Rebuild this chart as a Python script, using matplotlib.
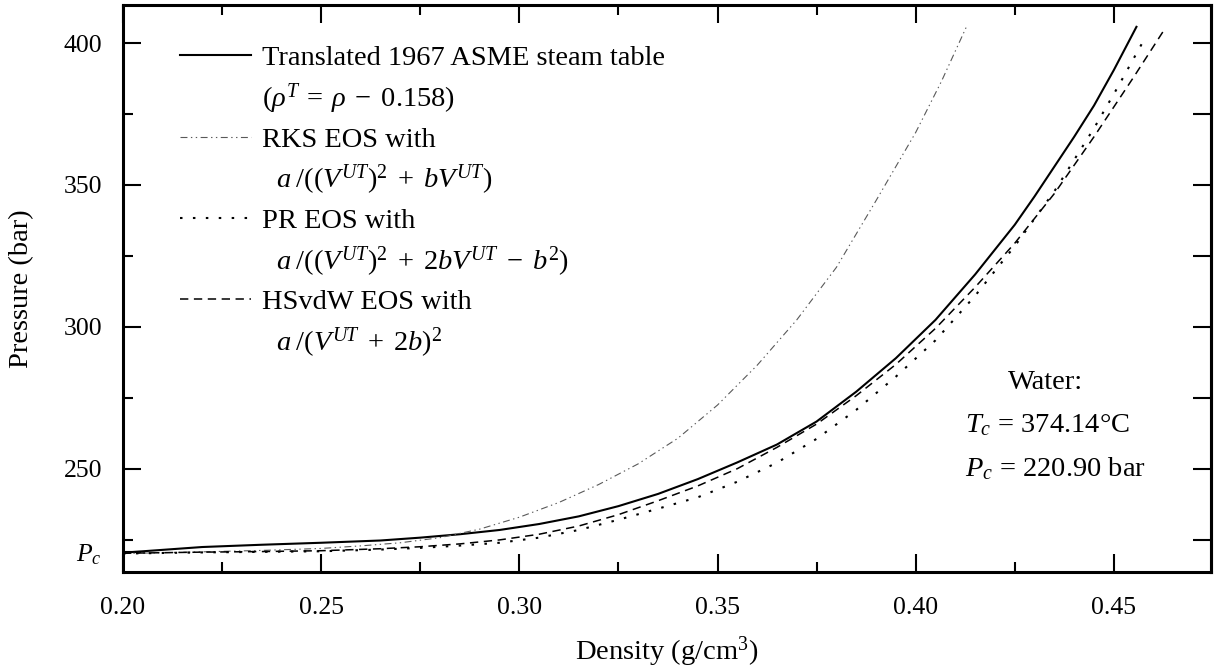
import numpy as np
import matplotlib
matplotlib.use("Agg")
import matplotlib.pyplot as plt
from matplotlib.lines import Line2D

plt.rcParams['font.family'] = ['Liberation Serif', 'DejaVu Serif']
plt.rcParams['mathtext.fontset'] = 'custom'
plt.rcParams['mathtext.rm'] = 'Liberation Serif'
plt.rcParams['mathtext.it'] = 'Liberation Serif:italic'
plt.rcParams['mathtext.bf'] = 'Liberation Serif:bold'
plt.rcParams['lines.scale_dashes'] = False

# values (density g/cm3, pressure bar)
rho_steam = [0.200, 0.210, 0.220, 0.235, 0.250, 0.265, 0.275, 0.285, 0.295, 0.305, 0.315, 0.325,
             0.335, 0.345, 0.355, 0.365, 0.375, 0.385, 0.395, 0.405, 0.415, 0.425, 0.430, 0.435,
             0.440, 0.445, 0.450, 0.4557]
p_steam = [220.5, 221.5, 222.5, 223.3, 224.0, 224.8, 225.8, 227.0, 228.5, 230.6, 233.3, 236.9,
           241.2, 246.4, 252.3, 258.6, 266.7, 277.2, 289.0, 302.5, 318.5, 336.0, 346.0, 356.5,
           367.0, 378.0, 390.5, 405.7]

rho_rks = [0.200, 0.210, 0.220, 0.235, 0.250, 0.260, 0.270, 0.280, 0.290, 0.300, 0.310, 0.320,
           0.330, 0.340, 0.350, 0.360, 0.370, 0.380, 0.390, 0.400, 0.4065, 0.4128]
p_rks = [220.2, 220.5, 220.8, 221.3, 222.0, 222.9, 224.0, 225.8, 228.8, 233.0, 238.2, 244.5,
         251.8, 260.8, 272.5, 286.5, 302.5, 321.0, 344.5, 368.5, 386.5, 405.7]

rho_pr = [0.200, 0.210, 0.220, 0.235, 0.250, 0.265, 0.275, 0.285, 0.295, 0.305, 0.315, 0.325,
          0.335, 0.345, 0.355, 0.365, 0.375, 0.385, 0.395, 0.405, 0.415, 0.425, 0.435, 0.445,
          0.451, 0.4578]
p_pr = [220.2, 220.4, 220.6, 220.8, 221.0, 221.6, 222.2, 223.0, 224.0, 225.8, 228.5, 232.1,
        236.0, 240.0, 245.5, 252.2, 260.6, 270.8, 282.5, 295.3, 311.0, 328.5, 347.8, 370.0,
        384.5, 401.6]

rho_hs = [0.200, 0.210, 0.220, 0.235, 0.250, 0.265, 0.275, 0.285, 0.295, 0.305, 0.315, 0.325,
          0.335, 0.345, 0.355, 0.365, 0.375, 0.385, 0.395, 0.405, 0.415, 0.425, 0.435, 0.445,
          0.455, 0.4624]
p_hs = [220.3, 220.5, 220.7, 220.9, 221.2, 221.9, 222.6, 223.6, 225.0, 227.0, 229.9, 233.9,
        238.8, 244.0, 250.1, 257.6, 265.8, 275.8, 286.8, 299.5, 314.0, 329.5, 347.0, 367.0,
        388.0, 404.0]

Pc = 220.90
yticks = [Pc, 250, 300, 350, 400]
ytick_labels = ['$P_c$', '250', '300', '350', '400']
xticks = [0.20, 0.25, 0.30, 0.35, 0.40, 0.45]

labels = ['Translated 1967 ASME steam table',
          r'($\rho^T\:=\:\rho\;-\;0.158$)',
          'RKS EOS with',
          r'$\;\;\,a\:/((V^{UT})^2\;+\;bV^{UT})$',
          'PR EOS with',
          r'$\;\;\,a\:/((V^{UT})^2\;+\;2bV^{UT}\;-\;b^2)$',
          'HSvdW EOS with',
          r'$\;\;\,a\:/(V^{UT}\;+\;2b)^2$']

fig = plt.figure(figsize=(12.14, 6.72), dpi=100)
ax = fig.add_axes([0.1013, 0.1488, 0.8962, 0.8438])

l1, = ax.plot(rho_steam, p_steam, color='black', lw=1.5)
l2, = ax.plot(rho_rks, p_rks, color='0.35', lw=0.8, dashes=(5, 2.5, 1, 2.5, 1, 2.5))
l3, = ax.plot(rho_pr, p_pr, color='black', lw=1.5, dashes=(1.8, 7.5))
l4, = ax.plot(rho_hs, p_hs, color='black', lw=1.1, dashes=(6, 4))

ax.set_xlim(0.20, 0.4745)
ax.set_ylim(213.7, 413.4)

ax.set_xticks(xticks)
ax.set_xticklabels(['%.2f' % v for v in xticks])
ax.set_xticks(np.arange(0.225, 0.47, 0.05), minor=True)
ax.set_yticks(yticks)
ax.set_yticklabels(ytick_labels)
ax.set_yticks(np.arange(225, 400, 50), minor=True)

ax.tick_params(which='both', direction='in', top=True, right=False, labelsize=18.5, width=1.5)
ax.tick_params(which='major', length=13)
ax.tick_params(which='minor', length=7)
ax.tick_params(axis='x', which='both', pad=18)
ax.tick_params(axis='y', which='both', pad=15)
for s in ax.spines.values():
    s.set_linewidth(2.2)

sec = ax.secondary_yaxis('right')
sec.set_yticks(np.arange(225, 401, 25))
sec.tick_params(direction='in', length=13, width=1.5, labelright=False)
sec.spines['right'].set_linewidth(2.2)

ax.set_xlabel('Density (g/cm$^3$)', fontsize=20.5, labelpad=11)
ax.set_ylabel('Pressure (bar)', fontsize=20.5, labelpad=21)

blank = Line2D([], [], linestyle='none')
handles = [l1, blank, l2, blank, l3, blank, l4, blank]
leg = ax.legend(handles, labels, loc='upper left', bbox_to_anchor=(0.052, 0.929), frameon=False,
                fontsize=20.5, handlelength=2.5, handletextpad=0.38, labelspacing=0.37,
                borderpad=0, borderaxespad=0)

ax.text(0.848, 0.335, 'Water:', transform=ax.transAxes, fontsize=20.5, ha='center', va='center')
ax.text(0.774, 0.259, r'$T_c$ = 374.14°C', transform=ax.transAxes, fontsize=20.5, ha='left', va='center')
ax.text(0.774, 0.182, r'$P_c$ = 220.90 bar', transform=ax.transAxes, fontsize=20.5, ha='left', va='center')

fig.savefig('out.png', dpi=100)
